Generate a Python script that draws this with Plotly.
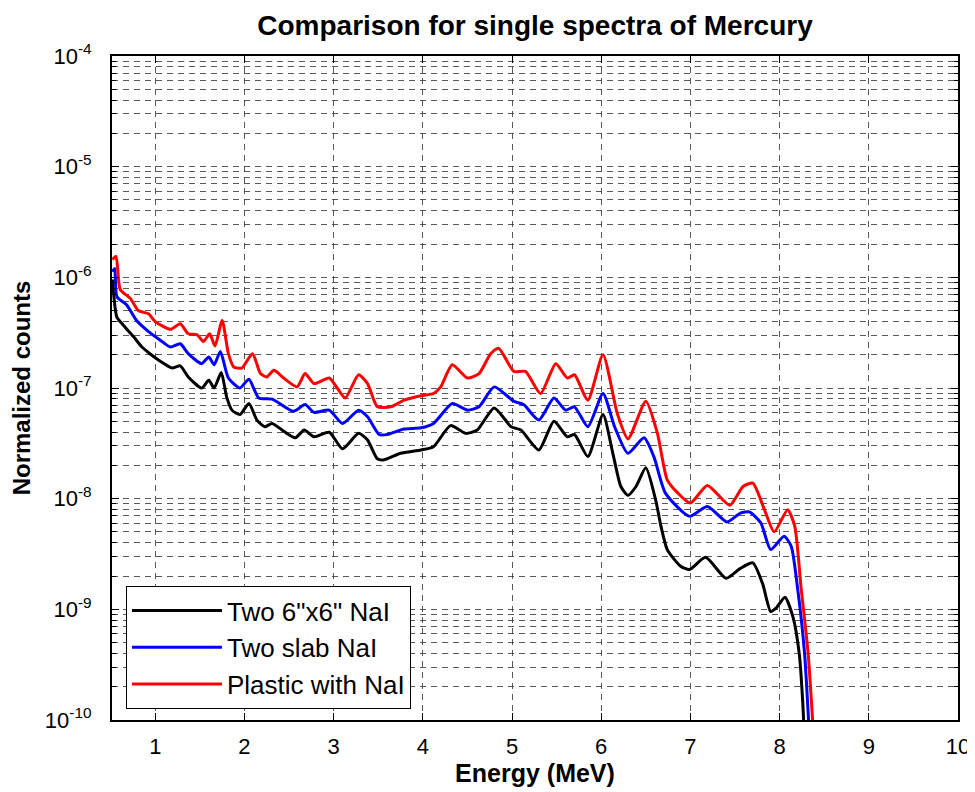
import plotly.graph_objects as go

# Energy (MeV) and log10(normalized counts)
x_black = [0.52, 0.57, 0.64, 0.76, 0.85, 0.94, 1.06, 1.19, 1.28, 1.37, 1.52, 1.60, 1.66, 1.74, 1.80, 1.86, 1.95,
           2.05, 2.14, 2.23, 2.31, 2.44, 2.57, 2.67, 2.78, 2.95, 3.10, 3.28, 3.38, 3.49, 3.56, 3.75, 3.98,
           4.12, 4.31, 4.48, 4.61, 4.80, 4.99, 5.10, 5.30, 5.47, 5.62, 5.70, 5.85, 6.02, 6.13, 6.22, 6.30,
           6.39, 6.50, 6.61, 6.67, 6.74, 6.89, 6.99, 7.17, 7.40, 7.56, 7.70, 7.81, 7.90, 7.96, 8.06, 8.15,
           8.22, 8.26, 8.29]
y_black = [-6.02, -6.36, -6.43, -6.54, -6.63, -6.69, -6.76, -6.82, -6.80, -6.90, -7.00, -6.93, -7.00, -6.86, -7.08, -7.20, -7.24,
           -7.14, -7.29, -7.35, -7.32, -7.39, -7.45, -7.38, -7.44, -7.40, -7.55, -7.41, -7.47, -7.64, -7.65, -7.59, -7.56,
           -7.53, -7.34, -7.41, -7.38, -7.18, -7.35, -7.38, -7.56, -7.30, -7.44, -7.42, -7.62, -7.24, -7.59, -7.89, -7.97,
           -7.89, -7.72, -8.01, -8.25, -8.46, -8.61, -8.64, -8.53, -8.72, -8.63, -8.58, -8.77, -9.02, -8.99, -8.89, -9.07,
           -9.40, -9.85, -10.4]

x_blue = [0.52, 0.545, 0.57, 0.68, 0.79, 0.925, 1.06, 1.17, 1.28, 1.37, 1.52, 1.60, 1.66, 1.73, 1.82, 1.95, 2.05,
          2.16, 2.31, 2.55, 2.68, 2.78, 2.95, 3.10, 3.28, 3.38, 3.51, 3.60, 3.79, 3.98, 4.12, 4.33, 4.50,
          4.63, 4.80, 5.02, 5.13, 5.30, 5.47, 5.60, 5.70, 5.85, 6.02, 6.15, 6.30, 6.48, 6.59, 6.72, 6.99,
          7.19, 7.41, 7.56, 7.66, 7.79, 7.90, 8.05, 8.13, 8.20, 8.28, 8.35]
y_blue = [-5.95, -5.92, -6.175, -6.25, -6.39, -6.49, -6.57, -6.63, -6.60, -6.69, -6.78, -6.72, -6.79, -6.67, -6.91, -7.00, -6.92,
          -7.09, -7.10, -7.21, -7.15, -7.22, -7.20, -7.32, -7.20, -7.26, -7.42, -7.42, -7.37, -7.36, -7.32, -7.14, -7.20,
          -7.17, -6.99, -7.12, -7.15, -7.29, -7.09, -7.20, -7.17, -7.35, -7.05, -7.35, -7.59, -7.45, -7.62, -7.95, -8.16,
          -8.07, -8.21, -8.13, -8.12, -8.22, -8.46, -8.34, -8.43, -8.80, -9.40, -10.4]

x_red = [0.52, 0.56, 0.607, 0.72, 0.81, 0.925, 1.00, 1.17, 1.28, 1.37, 1.47, 1.54, 1.61, 1.67, 1.75, 1.82, 1.88,
         1.97, 2.09, 2.18, 2.25, 2.33, 2.44, 2.59, 2.68, 2.78, 2.95, 3.04, 3.13, 3.28, 3.38, 3.49, 3.64,
         3.79, 3.98, 4.12, 4.20, 4.33, 4.50, 4.63, 4.76, 4.85, 5.02, 5.15, 5.32, 5.49, 5.62, 5.70, 5.85,
         6.02, 6.18, 6.30, 6.50, 6.63, 6.74, 6.86, 7.00, 7.19, 7.44, 7.59, 7.70, 7.83, 7.94, 8.09, 8.17,
         8.24, 8.32, 8.40]
y_red = [-5.84, -5.81, -6.11, -6.19, -6.30, -6.33, -6.40, -6.47, -6.42, -6.51, -6.52, -6.58, -6.51, -6.62, -6.39, -6.69, -6.81,
         -6.82, -6.69, -6.87, -6.90, -6.84, -6.91, -6.99, -6.87, -6.96, -6.91, -7.00, -7.09, -6.88, -6.96, -7.17, -7.17,
         -7.11, -7.07, -7.05, -6.99, -6.79, -6.91, -6.87, -6.69, -6.64, -6.85, -6.85, -7.05, -6.78, -6.91, -6.88, -7.11,
         -6.70, -7.23, -7.46, -7.12, -7.41, -7.83, -7.95, -8.04, -7.88, -8.06, -7.89, -7.86, -8.10, -8.30, -8.10, -8.25,
         -8.80, -9.40, -10.4]

x_ticks = [1, 2, 3, 4, 5, 6, 7, 8, 9, 10]
y_decades = [-10, -9, -8, -7, -6, -5, -4]

series = [
    ('Two 6"x6" NaI', x_black, y_black, '#000000'),
    ('Two slab NaI', x_blue, y_blue, '#0000FF'),
    ('Plastic with NaI', x_red, y_red, '#FF0000'),
]

fig = go.Figure()
for name, xs, ys, col in series:
    fig.add_trace(go.Scatter(
        x=xs, y=[10 ** v for v in ys], mode='lines', name=name,
        line=dict(color=col, width=3, shape='spline', smoothing=0.6),
    ))

grid_col = 'rgba(60,60,60,0.85)'
minor_vals = [m * 10 ** d for d in y_decades[:-1] for m in range(2, 10)]

# the page body adds an 8px margin, so the figure is sized to fit the window
fig.update_layout(
    width=967, height=784,
    paper_bgcolor='white', plot_bgcolor='white',
    margin=dict(l=104, r=17, t=48, b=72),
    font=dict(family='Liberation Sans, Arial, sans-serif', size=22, color='black'),
    title=dict(text='<b>Comparison for single spectra of Mercury</b>', x=0.5, xanchor='center',
               xref='paper', yref='container', y=0.978, yanchor='middle', font=dict(size=28)),
    showlegend=True,
    legend=dict(x=0.0165, y=0.0166, xanchor='left', yanchor='bottom',
                bgcolor='white', bordercolor='black', borderwidth=1,
                font=dict(size=26), tracegroupgap=0, itemwidth=90),
)
fig.update_xaxes(
    range=[0.515, 10], tickvals=x_ticks, ticktext=[str(t) for t in x_ticks],
    showgrid=True, gridcolor=grid_col, griddash='6px,5px', gridwidth=1,
    showline=True, linecolor='black', linewidth=2, mirror='ticks',
    ticks='inside', ticklen=7, tickcolor='black', zeroline=False,
    tickfont=dict(size=22), ticklabelstandoff=6, automargin=False,
    title=dict(text='<b>Energy (MeV)</b>', font=dict(size=25), standoff=6),
)
fig.update_yaxes(
    type='log', range=[-10, -4],
    tickvals=[10 ** d for d in y_decades],
    ticktext=['10<sup>%d</sup>' % d for d in y_decades],
    showgrid=True, gridcolor=grid_col, griddash='6px,5px', gridwidth=1,
    minor=dict(tickvals=minor_vals, showgrid=True, gridcolor=grid_col, griddash='6px,5px',
               gridwidth=1, ticks='inside', ticklen=4, tickcolor='black'),
    showline=True, linecolor='black', linewidth=2, mirror='ticks',
    ticks='inside', ticklen=7, tickcolor='black', zeroline=False,
    tickfont=dict(size=22), ticklabelstandoff=14, automargin=False,
    title=dict(text='<b>Normalized counts</b>', font=dict(size=24), standoff=8),
)

fig.write_html('out.html')
